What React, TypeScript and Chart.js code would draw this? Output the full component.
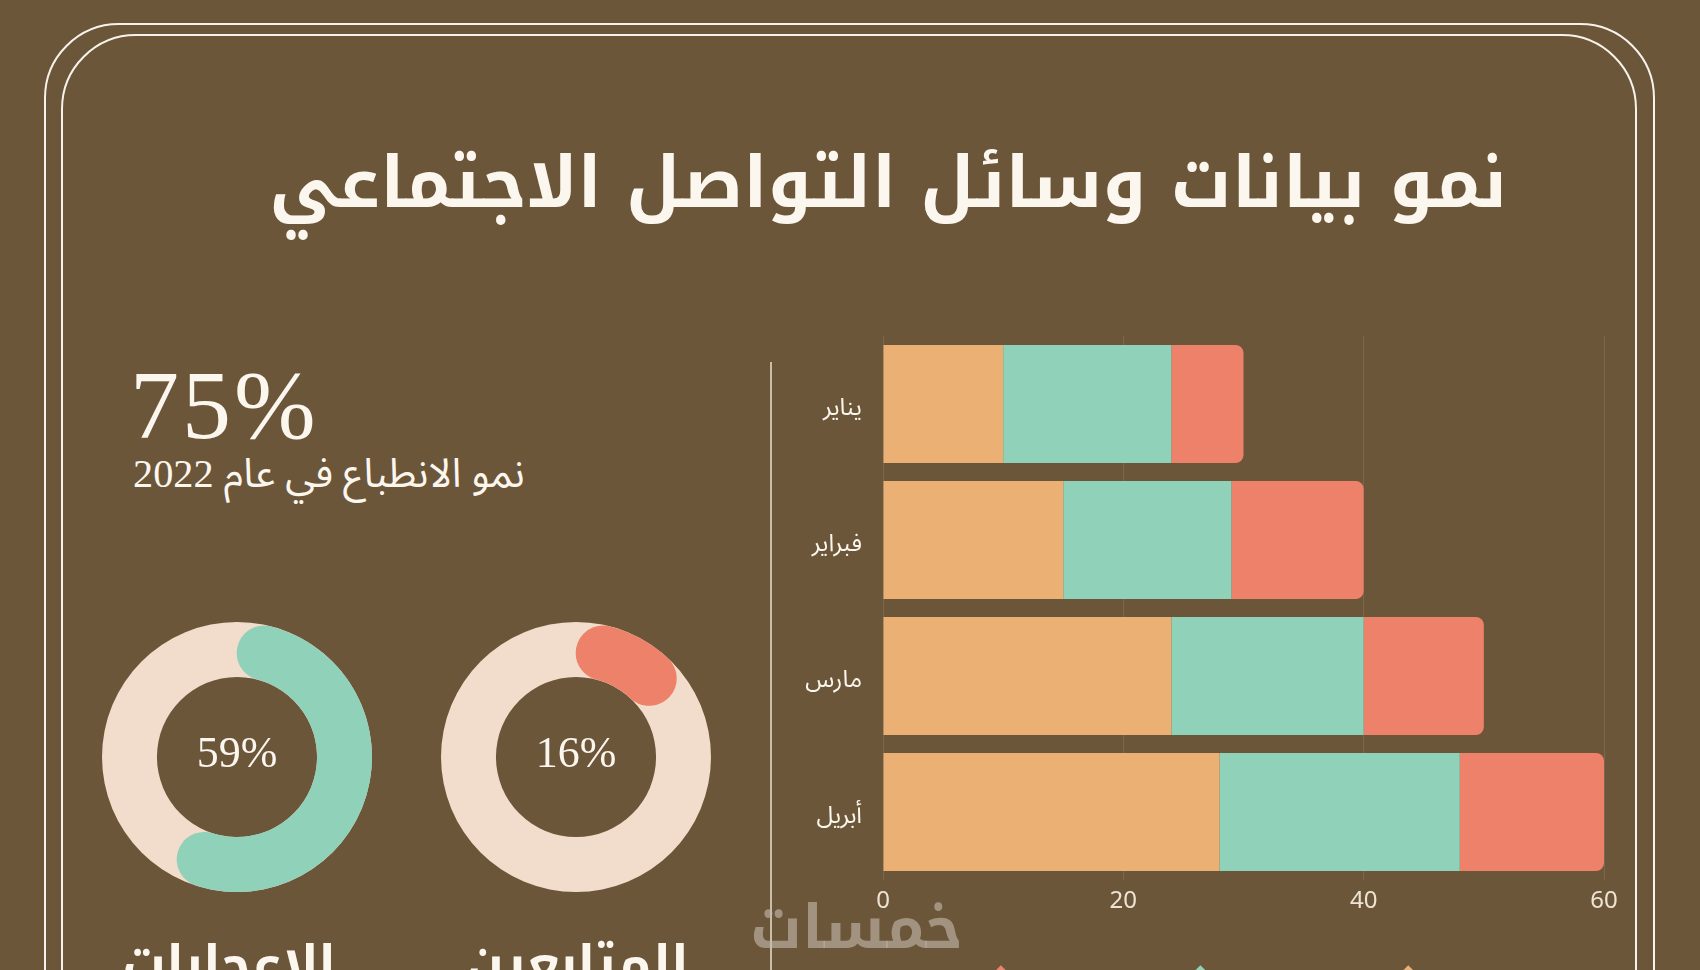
import React, { useEffect, useRef } from 'react';
import { Chart, registerables } from 'chart.js';

Chart.register(...registerables);

// ---------- data ----------
const titleText = 'نمو بيانات وسائل التواصل الاجتماعي';
const headlineValue = '75%';
const headlineCaption = 'نمو الانطباع في عام 2022';

const months = ['يناير', 'فبراير', 'مارس', 'أبريل'];
const seriesNames = ['عدد الانطباعات', 'عدد الإعجابات', 'عدد المتابعين'];
const impressions = [10, 15, 24, 28];
const likes = [14, 14, 16, 20];
const followers = [6, 11, 10, 12];
const xTickValues = [0, 20, 40, 60];

const donutLabels = ['الإعجابات', 'المتابعين'];
const donutPercents = [59, 16];
const watermarkText = 'خمسات';

// ---------- styles ----------
const BG = '#6c563a';
const CREAM = '#fbf6ee';
const TICK = '#eee4d4';
const ORANGE = '#ebb074';
const TEAL = '#8fd1b9';
const CORAL = '#ee8169';
const PEACH = '#f2dccb';
const ARABIC = '"Noto Sans Arabic", "Noto Naskh Arabic", "DejaVu Sans", sans-serif';
const ARABIC_BOLD = '"Noto Kufi Arabic", "Noto Sans Arabic", "DejaVu Sans", sans-serif';
const SERIF = '"Liberation Serif", "DejaVu Serif", serif';
const SERIF_AR = '"Liberation Serif", "Noto Sans Arabic", "DejaVu Sans", serif';

const trackPlugin = {
  id: 'track',
  beforeDatasetsDraw(chart: any, _args: any, opts: any) {
    const arc = chart.getDatasetMeta(0).data[0];
    if (!arc) return;
    const { x, y, innerRadius, outerRadius } = arc.getProps(['x', 'y', 'innerRadius', 'outerRadius'], true);
    const ctx = chart.ctx;
    ctx.save();
    ctx.beginPath();
    ctx.arc(x, y, outerRadius, 0, Math.PI * 2);
    ctx.moveTo(x + innerRadius, y);
    ctx.arc(x, y, innerRadius, 0, Math.PI * 2, true);
    ctx.fillStyle = opts.color || PEACH;
    ctx.fill();
    ctx.restore();
  },
};

function Donut({ percent, color, left, top }: { percent: number; color: string; left: number; top: number }) {
  const ref = useRef<HTMLCanvasElement>(null);
  useEffect(() => {
    const chart = new Chart(ref.current!, {
      type: 'doughnut',
      data: {
        labels: ['value', 'rest'],
        datasets: [
          {
            data: [percent, 100 - percent],
            backgroundColor: [color, 'rgba(0,0,0,0)'],
            borderWidth: 0,
            borderRadius: 27.5,
          },
        ],
      },
      options: {
        responsive: false,
        animation: false,
        events: [],
        cutout: '59.3%',
        layout: { padding: 0 },
        plugins: {
          legend: { display: false },
          tooltip: { enabled: false },
          // @ts-ignore
          track: { color: PEACH },
        },
      },
      plugins: [trackPlugin],
    } as any);
    return () => chart.destroy();
  }, [percent, color]);
  return (
    <canvas
      ref={ref}
      width={270}
      height={270}
      style={{ position: 'absolute', left, top, width: 270, height: 270 }}
    />
  );
}

const CL = 687;
const CT = 320;
const CW = 1644 - CL;
const CH = 685;
const LEG_PAD = 58;
const LEG_FONT = 20;

function BarChart() {
  const ref = useRef<HTMLCanvasElement>(null);
  useEffect(() => {
    const chart = new Chart(ref.current!, {
      type: 'bar',
      data: {
        labels: months,
        datasets: [
          { label: seriesNames[0], data: impressions, backgroundColor: ORANGE, borderWidth: 0, borderRadius: 0 },
          { label: seriesNames[1], data: likes, backgroundColor: TEAL, borderWidth: 0, borderRadius: 0 },
          {
            label: seriesNames[2],
            data: followers,
            backgroundColor: CORAL,
            borderWidth: 0,
            borderRadius: 8,
            borderSkipped: 'start',
          },
        ],
      },
      options: {
        indexAxis: 'y',
        responsive: false,
        animation: false,
        events: [],
        layout: { padding: { left: 0, right: 40, top: 16, bottom: 0 } },
        datasets: { bar: { categoryPercentage: 0.868, barPercentage: 1 } },
        scales: {
          x: {
            stacked: true,
            min: 0,
            max: 60,
            afterBuildTicks: (s: any) => {
              s.ticks = xTickValues.map((v) => ({ value: v }));
            },
            ticks: { color: TICK, font: { family: '"Noto Sans", "DejaVu Sans", sans-serif', size: 24 }, padding: 7 },
            grid: { color: 'rgba(255,255,255,0.1)', drawTicks: false, lineWidth: 1 },
            border: { display: false },
            afterFit: (s: any) => {
              s.height = CH - 560 - (LEG_FONT + LEG_PAD + 10);
              s.paddingLeft = 0;
              s.paddingRight = 0;
            },
          },
          y: {
            stacked: true,
            ticks: { color: CREAM, font: { family: ARABIC, size: 24 }, padding: 21, labelOffset: 7 },
            grid: { display: false, drawTicks: false },
            border: { display: false },
            afterFit: (s: any) => {
              s.width = 883 - CL;
              s.paddingTop = 0;
              s.paddingBottom = 0;
            },
          },
        },
        plugins: {
          tooltip: { enabled: false },
          legend: {
            position: 'bottom',
            rtl: true,
            labels: {
              usePointStyle: true,
              pointStyle: 'rectRot',
              color: CREAM,
              padding: LEG_PAD,
              font: { family: ARABIC, size: LEG_FONT },
              generateLabels: (c: any) =>
                (Chart.defaults.plugins.legend.labels.generateLabels as any)(c).map((l: any) => ({
                  ...l,
                  lineWidth: 8,
                  strokeStyle: l.fillStyle,
                  lineJoin: 'miter',
                })),
            },
          },
        },
      },
    } as any);
    return () => chart.destroy();
  }, []);
  return (
    <canvas
      ref={ref}
      width={CW}
      height={CH}
      style={{ position: 'absolute', left: CL, top: CT, width: CW, height: CH }}
    />
  );
}

export default function App() {
  useEffect(() => {
    document.body.style.margin = '0';
    document.body.style.background = BG;
  }, []);

  const frame = (left: number, top: number, width: number): React.CSSProperties => ({
    position: 'absolute',
    left,
    top,
    width,
    height: 1200,
    border: '2px solid #f8f3ea',
    borderRadius: 75,
    boxSizing: 'border-box',
  });

  return (
    <div
      style={{
        position: 'relative',
        width: 1700,
        height: 970,
        overflow: 'hidden',
        background: BG,
      }}
    >
      <div style={frame(44, 23, 1611)} />
      <div style={frame(61, 34, 1576)} />

      <div
        dir="rtl"
        style={{
          position: 'absolute',
          right: 193,
          top: 148,
          color: CREAM,
          fontFamily: ARABIC_BOLD,
          fontWeight: 700,
          fontSize: 70.6,
          lineHeight: 1,
          whiteSpace: 'nowrap',
        }}
      >
        {titleText}
      </div>

      <div
        style={{
          position: 'absolute',
          left: 130,
          top: 356,
          color: CREAM,
          fontFamily: SERIF,
          fontSize: 98,
          letterSpacing: 3,
          lineHeight: 1,
          whiteSpace: 'nowrap',
        }}
      >
        {headlineValue}
      </div>
      <div
        dir="rtl"
        style={{
          position: 'absolute',
          left: 133,
          top: 450,
          color: CREAM,
          fontFamily: SERIF_AR,
          fontSize: 40.3,
          lineHeight: 1.2,
          whiteSpace: 'nowrap',
        }}
      >
        {headlineCaption}
      </div>

      <Donut percent={donutPercents[0]} color={TEAL} left={102} top={622} />
      <Donut percent={donutPercents[1]} color={CORAL} left={441} top={622} />
      {[237, 576].map((cx, i) => (
        <div
          key={'pct' + i}
          style={{
            position: 'absolute',
            left: cx - 100,
            width: 200,
            top: 731,
            textAlign: 'center',
            color: CREAM,
            fontFamily: SERIF,
            fontSize: 44,
            lineHeight: 1,
          }}
        >
          {donutPercents[i]}%
        </div>
      ))}
      {[229, 577].map((cx, i) => (
        <div
          key={'lbl' + i}
          dir="rtl"
          style={{
            position: 'absolute',
            left: cx - 200,
            width: 400,
            top: 940,
            textAlign: 'center',
            color: CREAM,
            fontFamily: ARABIC_BOLD,
            fontWeight: 700,
            fontSize: 51,
            lineHeight: 1,
          }}
        >
          {donutLabels[i]}
        </div>
      ))}

      <div
        style={{ position: 'absolute', left: 770, top: 362, width: 2, height: 620, background: '#c9bea9' }}
      />

      <BarChart />

      <div
        dir="rtl"
        style={{
          position: 'absolute',
          left: 750,
          top: 898,
          color: 'rgba(196,188,174,0.6)',
          fontFamily: ARABIC_BOLD,
          fontWeight: 700,
          fontSize: 60,
          lineHeight: 1,
          whiteSpace: 'nowrap',
        }}
      >
        {watermarkText}
      </div>
    </div>
  );
}
